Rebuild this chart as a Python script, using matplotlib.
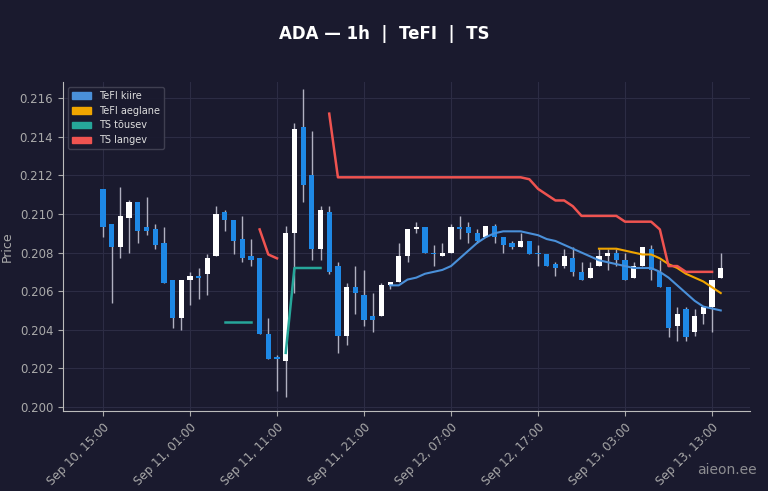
import matplotlib
matplotlib.use("Agg")
import matplotlib.pyplot as plt
import numpy as np

opens  = [0.2113,0.2095,0.2083,0.2098,0.2106,0.2093,0.2092,0.2085,0.2066,0.2046,0.2066,0.2068,0.2069,0.2078,0.2101,0.2097,0.2087,0.2078,0.2077,0.2038,0.2026,0.2024,0.2090,0.2145,0.2120,0.2082,0.2101,0.2073,0.2037,0.2062,0.2058,0.2047,0.2047,0.2063,0.2065,0.2078,0.2092,0.2093,0.2080,0.2078,0.2080,0.2093,0.2093,0.2090,0.2088,0.2094,0.2088,0.2085,0.2083,0.2086,0.2080,0.2079,0.2074,0.2073,0.2077,0.2070,0.2067,0.2073,0.2078,0.2080,0.2076,0.2067,0.2073,0.2082,0.2070,0.2062,0.2042,0.2051,0.2039,0.2048,0.2052,0.2067]
closes = [0.2093,0.2083,0.2099,0.2106,0.2091,0.2091,0.2084,0.2064,0.2046,0.2066,0.2068,0.2067,0.2077,0.2100,0.2097,0.2086,0.2077,0.2076,0.2038,0.2025,0.2025,0.2090,0.2144,0.2115,0.2082,0.2102,0.2070,0.2037,0.2062,0.2059,0.2045,0.2045,0.2063,0.2065,0.2078,0.2092,0.2093,0.2080,0.2079,0.2080,0.2093,0.2092,0.2090,0.2086,0.2094,0.2088,0.2084,0.2083,0.2086,0.2079,0.2079,0.2073,0.2072,0.2078,0.2070,0.2066,0.2072,0.2078,0.2080,0.2076,0.2066,0.2073,0.2083,0.2071,0.2062,0.2041,0.2048,0.2036,0.2047,0.2052,0.2066,0.2072]
highs  = [0.2113,0.2095,0.2114,0.2107,0.2106,0.2109,0.2095,0.2093,0.2066,0.2066,0.2070,0.2072,0.2079,0.2104,0.2102,0.2097,0.2099,0.2087,0.2077,0.2046,0.2027,0.2094,0.2147,0.2165,0.2143,0.2104,0.2104,0.2075,0.2064,0.2073,0.2071,0.2059,0.2064,0.2065,0.2085,0.2092,0.2096,0.2093,0.2084,0.2085,0.2095,0.2099,0.2096,0.2092,0.2094,0.2095,0.2088,0.2086,0.2090,0.2086,0.2084,0.2079,0.2075,0.2082,0.2083,0.2075,0.2075,0.2082,0.2082,0.2082,0.2080,0.2075,0.2083,0.2084,0.2076,0.2062,0.2052,0.2052,0.2051,0.2052,0.2066,0.2080]
lows   = [0.2088,0.2054,0.2077,0.2080,0.2085,0.2089,0.2082,0.2064,0.2041,0.2040,0.2053,0.2056,0.2058,0.2078,0.2091,0.2079,0.2075,0.2073,0.2038,0.2025,0.2008,0.2005,0.2059,0.2106,0.2076,0.2076,0.2069,0.2028,0.2032,0.2048,0.2042,0.2039,0.2047,0.2061,0.2065,0.2075,0.2090,0.2080,0.2073,0.2078,0.2080,0.2087,0.2085,0.2085,0.2088,0.2085,0.2080,0.2082,0.2083,0.2079,0.2073,0.2073,0.2068,0.2072,0.2068,0.2066,0.2067,0.2073,0.2071,0.2073,0.2066,0.2067,0.2073,0.2066,0.2062,0.2036,0.2034,0.2034,0.2037,0.2043,0.2039,0.2067]

tefi_fast_x = list(range(33, 72))
tefi_fast = [0.2063,0.2063,0.2066,0.2067,0.2069,0.2070,0.2071,0.2073,0.2077,0.2081,0.2085,0.2088,0.2090,0.2091,0.2091,0.2091,0.2090,0.2089,0.2087,0.2086,0.2084,0.2082,0.2080,0.2078,0.2076,0.2075,0.2074,0.2073,0.2072,0.2072,0.2072,0.2070,0.2067,0.2063,0.2059,0.2055,0.2052,0.2051,0.2050]
tefi_slow_x = list(range(57, 72))
tefi_slow = [0.2082,0.2082,0.2082,0.2081,0.2080,0.2079,0.2079,0.2077,0.2074,0.2072,0.2069,0.2067,0.2065,0.2062,0.2059]
ts_up_segs = [(list(range(14, 18)), [0.2044]*4),
              (list(range(21, 26)), [0.2028,0.2072,0.2072,0.2072,0.2072])]
ts_down_segs = [([18,19,20], [0.2092,0.2079,0.2077]),
                (list(range(26, 71)),
                 [0.2152] + [0.2119]*22 + [0.2118,0.2113,0.2110,0.2107,0.2107,0.2104]
                 + [0.2099]*5 + [0.2096]*4 + [0.2092,0.2073,0.2073] + [0.2070]*4)]
tick_pos = [0,10,20,30,40,50,60,70]
tick_labels = ["Sep 10, 15:00","Sep 11, 01:00","Sep 11, 11:00","Sep 11, 21:00",
               "Sep 12, 07:00","Sep 12, 17:00","Sep 13, 03:00","Sep 13, 13:00"]

bg = "#1a1a2e"
up_c, dn_c = "#ffffff", "#1e88e5"
fig = plt.figure(figsize=(7.68, 4.91), dpi=100, facecolor=bg)
ax = fig.add_axes([0.082, 0.163, 0.895, 0.67], facecolor=bg)

x = np.arange(len(opens))
for i in x:
    o, c, h, l = opens[i], closes[i], highs[i], lows[i]
    col = up_c if c >= o else dn_c
    ax.vlines(i, l, h, color="#b0b0c0", lw=1, zorder=2)
    ax.bar(i, max(abs(c - o), 0.00004), bottom=min(o, c), width=0.6, color=col, zorder=3)

ax.plot(tefi_fast_x, tefi_fast, color="#4a90d9", lw=1.5, zorder=4)
ax.plot(tefi_slow_x, tefi_slow, color="#f0a500", lw=1.5, zorder=4)
for sx, sy in ts_up_segs:
    ax.plot(sx, sy, color="#26a69a", lw=1.8, zorder=4)
for sx, sy in ts_down_segs:
    ax.plot(sx, sy, color="#ef5350", lw=1.8, zorder=4)

from matplotlib.patches import Patch
handles = [Patch(color="#4a90d9", label="TeFI kiire"), Patch(color="#f0a500", label="TeFI aeglane"),
           Patch(color="#26a69a", label="TS tõusev"), Patch(color="#ef5350", label="TS langev")]
leg = ax.legend(handles=handles, loc="upper left", fontsize=7, facecolor=bg, edgecolor="#444455",
                labelcolor="#dddddd", framealpha=0.9)

ax.set_xlim(-4.6, 74.4)
ax.set_ylim(0.19979, 0.21684)
ax.set_yticks(np.arange(0.200, 0.2161, 0.002))
ax.yaxis.set_major_formatter(matplotlib.ticker.FormatStrFormatter("%.3f"))
ax.set_xticks(tick_pos)
ax.set_xticklabels(tick_labels, rotation=45, ha="right", rotation_mode="anchor")
ax.tick_params(colors="#aaaaaa", labelsize=8.5)
ax.grid(True, color="#2c2c44", lw=0.8)
ax.set_axisbelow(True)
for s in ax.spines.values():
    s.set_color("#bbbbbb")
ax.spines["top"].set_visible(False)
ax.spines["right"].set_visible(False)
ax.set_ylabel("Price", color="#aaaaaa", fontsize=9)
fig.suptitle("ADA — 1h  |  TeFI  |  TS", color="white", fontsize=12, fontweight="bold", y=0.95)
fig.text(0.985, 0.035, "aieon.ee", color="#aaaaaa", fontsize=10, ha="right", alpha=0.8)
fig.savefig("out.png", dpi=100, facecolor=bg)
